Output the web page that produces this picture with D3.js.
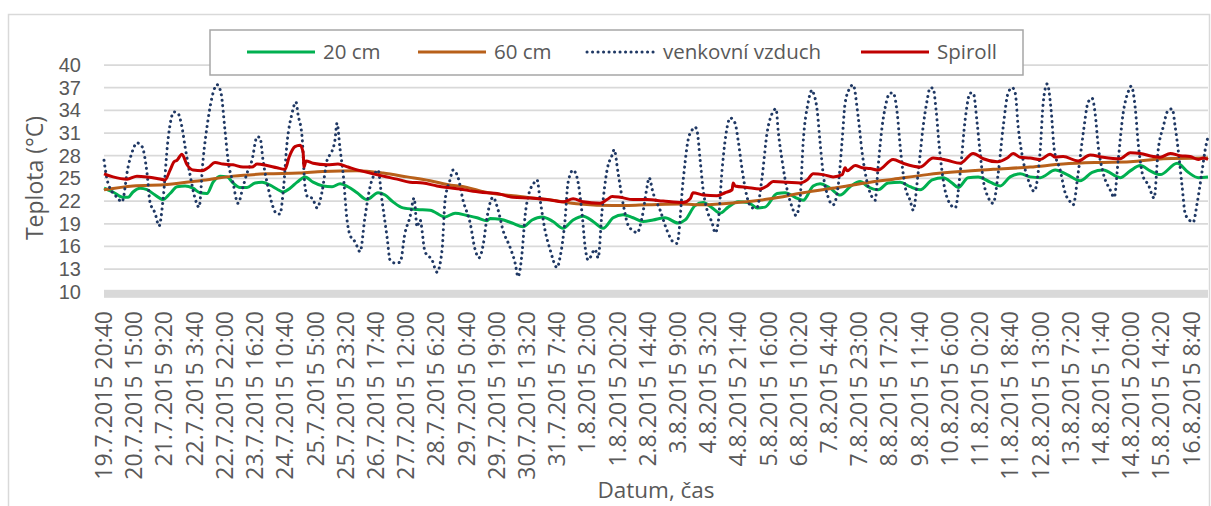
<!DOCTYPE html>
<html lang="cs">
<head>
<meta charset="UTF-8">
<title>Teplota</title>
<script src="https://d3js.org/d3.v7.min.js"></script>
<style>
  body { margin: 0; background: #fff; }
  svg text { font-family: "Open Sans", sans-serif; fill: #595959; }
  svg text.ytick { font-family: "Liberation Sans", Arial, sans-serif; }
</style>
</head>
<body>
<svg id="chart" width="1211" height="506"></svg>
<script>
// popisky osy x (kazdy 110. zaznam, krok 10 min)
var tickLabels = ["19.7.2015 20:40","20.7.2015 15:00","21.7.2015 9:20","22.7.2015 3:40","22.7.2015 22:00",
  "23.7.2015 16:20","24.7.2015 10:40","25.7.2015 5:00","25.7.2015 23:20","26.7.2015 17:40","27.7.2015 12:00",
  "28.7.2015 6:20","29.7.2015 0:40","29.7.2015 19:00","30.7.2015 13:20","31.7.2015 7:40","1.8.2015 2:00",
  "1.8.2015 20:20","2.8.2015 14:40","3.8.2015 9:00","4.8.2015 3:20","4.8.2015 21:40","5.8.2015 16:00",
  "6.8.2015 10:20","7.8.2015 4:40","7.8.2015 23:00","8.8.2015 17:20","9.8.2015 11:40","10.8.2015 6:00",
  "11.8.2015 0:20","11.8.2015 18:40","12.8.2015 13:00","13.8.2015 7:20","14.8.2015 1:40","14.8.2015 20:00",
  "15.8.2015 14:20","16.8.2015 8:40"];
var lastRecord = "16.8.2015 18:40";
var yTicks = [10, 13, 16, 19, 22, 25, 28, 31, 34, 37, 40];

// [hodiny od prvniho zaznamu, teplota]
var cm20 = [[0,23.7],[5.5,23.2],[11.5,22.5],[14.6,22.5],[17.6,23.2],[21.9,23.7],[26.1,23.5],[31,22.8],[35.8,22.2],
  [40.1,23.0],[44.3,23.9],[49.2,24.0],[54,23.7],[58.3,23.1],[62.5,23.0],[66.2,24.5],[70.4,25.3],[74.7,25.2],
  [78.3,24.4],[82.5,23.8],[86.8,23.8],[91.7,24.4],[95.9,24.5],[100.8,24.1],[105.6,23.5],[108.7,23.2],[112.9,23.7],
  [117.2,24.5],[122,25.2],[126.9,24.5],[132.9,24.0],[138.4,23.9],[143.3,24.3],[148.1,23.9],[153.6,23.1],
  [159.6,22.2],[166.3,23.1],[170.6,22.8],[175.4,21.9],[181.5,21.1],[190,20.9],[197.9,20.8],[207,19.9],
  [213.1,20.4],[220.3,20.1],[226.4,19.8],[232.5,19.4],[234.3,19.7],[240.4,19.6],[247.7,19.1],[254.3,18.6],
  [259.8,19.5],[265.9,19.9],[272.5,19.3],[278.6,18.4],[284.7,19.5],[290.8,20.0],[296.8,19.3],[302.9,18.4],
  [309,19.8],[315,20.2],[321.1,19.8],[327.2,19.3],[333.2,19.5],[340.5,19.8],[348.4,19.1],[352.7,19.5],
  [358.7,21.4],[363.6,21.8],[369.1,21.1],[373.9,20.4],[378.8,21.2],[384.8,21.9],[390.9,21.8],[396.4,21.1],
  [401.2,21.2],[408.5,23.0],[413.4,23.1],[419.4,22.5],[424.3,22.1],[430.4,24.0],[434.6,24.3],[440.7,23.7],
  [446.8,22.8],[452.8,23.9],[458.9,24.6],[463.7,23.9],[469.8,23.5],[475.9,24.4],[483.2,24.5],[489.2,23.9],
  [495.3,23.5],[502.6,24.8],[509.3,25.1],[514.7,24.4],[518.4,23.8],[524.4,25.1],[530.5,25.2],[537.8,24.5],
  [543.9,24.0],[549.9,25.2],[556,25.6],[562.1,25.2],[568.2,25.1],[577.3,26.1],[584.5,25.5],[592.4,24.7],
  [599.7,25.8],[606.4,26.1],[616.7,25.1],[622.8,26.0],[628.9,26.7],[634.9,26.0],[641,25.5],[651.3,27.0],
  [658,25.8],[664.1,25.1],[670,25.2]];

var cm60 = [[0,23.5],[17.6,24.0],[38.2,24.2],[58.3,24.7],[78.3,25.3],[98.9,25.6],[118.4,25.7],[132.9,25.9],
  [153.6,26.0],[169.4,25.7],[183.9,25.2],[197.9,24.7],[208.2,24.2],[220.3,23.8],[231,23.2],[248.3,22.7],
  [268.9,22.2],[289,21.6],[309,21.4],[329.6,21.5],[350.3,21.6],[363.6,21.5],[384.2,21.8],[404.2,22.3],
  [424.3,23.1],[445,23.8],[465,24.5],[479,24.9],[499.6,25.5],[519.6,25.9],[539.6,26.2],[562.1,26.5],
  [582.1,26.9],[603,27.1],[622.8,27.2],[642.8,27.6],[670,27.7]];

var venkovni = [[0,27.4],[2.4,24.4],[7.9,22.5],[10.9,21.9],[14.6,26.5],[17.6,28.8],[20,29.7],[23.1,29.2],
  [26.1,25.7],[27.9,21.9],[31,20.4],[33.4,18.7],[35.8,22.1],[38.8,30.0],[42.5,33.8],[44.9,33.6],[47.3,31.8],
  [49.2,29.2],[52.2,25.5],[55.2,22.4],[57.7,21.2],[60.1,27.4],[63.1,32.7],[66.2,36.3],[68.6,37.4],[71,36.3],
  [73.4,31.4],[75.3,27.4],[78.3,24.4],[81.3,21.7],[84.4,23.9],[86.8,25.7],[89.8,27.4],[92.9,30.5],[94.7,30.4],
  [96.5,27.4],[99.5,23.9],[102.6,21.2],[105,20.3],[106.8,20.3],[108.7,23.1],[111.1,29.7],[114.1,33.6],
  [116.5,35.1],[117.8,33.4],[120.2,30.5],[122,23.9],[123.8,22.5],[126.3,22.4],[129.3,21.1],[132.3,23.2],
  [135.4,27.4],[138.4,28.6],[140.2,30.1],[141.4,32.3],[143.3,28.8],[145.1,25.7],[147.5,19.5],[149.3,17.5],
  [152.4,16.6],[155.4,15.3],[158.4,19.9],[161.5,23.9],[164.5,25.7],[166.3,26.1],[168.7,22.1],[171.8,17.2],
  [173.6,14.2],[176.6,13.8],[179.7,13.9],[182.7,17.8],[185.7,19.9],[188.2,22.4],[190,18.6],[191.8,19.5],
  [194.8,15.3],[199.1,14.2],[202.1,12.6],[205.2,15.6],[207,22.1],[210,24.8],[211.8,26.1],[214.9,25.1],
  [217.9,22.1],[222.2,19.1],[225.2,15.6],[227.6,14.5],[230.1,16.2],[232.5,19.9],[236.1,22.5],[239.2,20.8],
  [242.2,18.1],[246.4,15.9],[249.5,13.8],[251.3,12.0],[253.7,15.1],[255.5,19.9],[258.6,23.5],[260.4,24.2],
  [262.8,24.8],[264.7,22.1],[267.7,18.1],[270.7,15.6],[275,13.2],[276.8,14.6],[279.8,19.5],[281.6,24.4],
  [284.7,26.1],[287.1,25.1],[290.1,20.4],[292,15.9],[293.8,14.2],[298,15.6],[299.9,14.5],[302.3,20.8],
  [305.3,26.1],[308.4,28.1],[309.6,28.8],[312,25.7],[315,21.7],[318.1,18.8],[321.1,18.1],[323.5,17.8],
  [326.6,19.9],[329.6,23.9],[330.8,25.1],[333.2,23.1],[337.5,20.8],[341.7,18.1],[345.4,16.6],[347.8,16.4],
  [351.5,24.8],[354.5,30.1],[356.9,31.4],[358.7,31.8],[360,31.2],[361.8,27.4],[363.6,23.5],[366,20.8],
  [369.1,19.1],[370.9,17.8],[372.7,19.1],[375.1,26.1],[378.2,31.8],[380,33.0],[383,32.3],[384.8,30.1],
  [387.3,26.1],[390.3,22.5],[393.3,21.1],[396.4,21.2],[399.4,25.2],[402.4,31.0],[405.5,33.6],[407.9,34.2],
  [409.1,31.4],[411.5,27.4],[414.6,23.5],[417.6,21.2],[420,20.1],[422.5,22.5],[424.3,29.7],[427.3,35.0],
  [429.8,36.7],[430.4,36.4],[432.8,34.0],[434.6,29.7],[436.4,25.7],[439.5,22.5],[442.5,21.5],[445.5,23.9],
  [448,30.1],[449.8,35.0],[452.8,37.0],[454.6,37.4],[457.7,33.1],[460.1,28.4],[463.1,24.5],[466.2,22.5],
  [468,22.1],[469.8,26.5],[472.2,31.8],[474.1,34.4],[477.1,36.3],[478.9,36.3],[481.4,33.6],[483.2,29.2],
  [486.2,23.9],[489.2,22.1],[491.1,20.8],[494.1,25.7],[497.1,31.8],[499.6,35.4],[501.4,37.0],[503.2,36.9],
  [505,34.0],[506.9,29.2],[509.3,24.8],[512.3,22.1],[516.6,21.1],[519.6,25.7],[522.6,32.7],[525.7,36.3],
  [527.5,36.3],[529.9,32.3],[531.7,28.4],[533.6,24.8],[536.6,22.5],[539.6,21.7],[542.7,25.7],[545.7,31.8],
  [548.7,36.3],[551.2,37.0],[553,36.3],[554.8,31.8],[557.8,27.4],[560.9,24.8],[564.5,23.3],[568.2,28.8],
  [570,35.0],[572.4,37.5],[574.8,34.0],[576.7,28.8],[580.3,26.1],[583.3,23.1],[586.4,21.9],[588.2,21.5],
  [591.2,25.7],[594.3,31.0],[597.3,35.1],[599.7,35.6],[601.5,33.6],[603.4,29.2],[606.4,25.7],[610.6,23.5],
  [613.1,22.5],[615.5,27.4],[618.5,33.6],[621.5,36.4],[623.4,37.2],[625.8,34.4],[627.6,29.7],[630.7,25.2],
  [633.7,24.2],[637.3,22.4],[639.8,28.8],[642.8,31.8],[645.8,34.0],[648.3,34.2],[650.1,31.8],[651.9,28.8],
  [654.3,23.9],[656.1,20.4],[658.6,19.5],[661,19.2],[663.4,21.7],[666.5,26.1],[668.3,28.8],[670,30.5]];

var spiroll = [[0,25.6],[5.5,25.2],[14,24.9],[20,25.3],[26.1,25.2],[32.2,25.0],[37,24.8],[40.1,26.1],[42.5,27.2],
  [44.3,27.4],[47.3,28.2],[50.4,26.8],[54,26.1],[59.5,26.0],[63.1,26.4],[67.4,27.1],[72.2,26.9],[78.3,26.8],
  [84.4,26.5],[89.8,26.5],[92.9,26.9],[98.9,26.7],[105,26.4],[109.9,26.2],[112.3,27.8],[115.9,29.2],[119,29.4],
  [120.8,28.5],[121.4,26.5],[122.6,27.3],[126.9,27.0],[135.4,26.8],[142,26.9],[148.1,26.5],[154.2,26.1],
  [161.5,25.7],[169.4,25.3],[177.9,24.9],[185.7,24.5],[193.6,24.4],[202.1,24.0],[208.2,23.8],[216.1,23.6],
  [224,23.3],[232.5,23.1],[238.6,23.0],[248.3,22.5],[258.6,22.4],[268.9,22.2],[278.6,21.9],[284.7,22.3],
  [290.8,21.9],[301.1,21.7],[305.3,22.2],[308.4,22.6],[313.2,22.5],[321.1,22.2],[329.6,22.2],[339.3,22.0],
  [351.5,21.8],[355.7,22.3],[357.5,23.1],[363.6,22.8],[372.1,22.7],[376.9,23.1],[381.2,23.5],[381.8,24.4],
  [383,24.0],[390.3,23.8],[398.2,23.6],[402.4,24.0],[406.1,24.6],[414.6,24.5],[422.5,24.4],[426.7,24.8],
  [430.4,25.6],[436.4,25.5],[442.5,25.2],[448,25.5],[449.8,26.4],[451,26.0],[455.9,26.7],[460.1,26.4],
  [465,26.3],[469.8,26.1],[478.9,27.5],[485,27.0],[495.3,26.5],[503.2,27.7],[511.7,27.4],[519.6,27.0],
  [527.5,28.3],[533.6,27.6],[542.1,27.2],[548.1,27.7],[551.8,28.3],[556,27.8],[562.1,27.7],[568.2,27.5],
  [574.2,28.2],[577.3,27.8],[582.1,27.9],[591.2,27.3],[598.5,28.1],[606.4,27.8],[616.7,27.6],[622.8,28.4],
  [628.9,28.3],[636.7,27.9],[641,27.8],[647.1,28.3],[653.1,28.0],[659.2,27.9],[664.1,27.5],[667.1,27.7],
  [670,27.5]];

var series = [
  { name: "20 cm", data: cm20, color: "#00B050", dash: null },
  { name: "60 cm", data: cm60, color: "#B8601A", dash: null },
  { name: "venkovní vzduch", data: venkovni, color: "#1F3864", dash: "0.1 5.4" },
  { name: "Spiroll", data: spiroll, color: "#C00000", dash: null }
];

var svg = d3.select("#chart");
var parse = d3.timeParse("%d.%m.%Y %H:%M");
var start = parse(tickLabels[0]);
var end = parse(lastRecord);

var x = d3.scaleTime().domain([start, end]).range([104, 1208]);
var y = d3.scaleLinear().domain([10, 40]).range([291.8, 65]);

function atHour(h) { return new Date(start.getTime() + h * 3600000); }

// ramecek grafu
svg.append("rect")
  .attr("x", 8.5).attr("y", 14.5).attr("width", 1201).attr("height", 520)
  .attr("fill", "#fff").attr("stroke", "#d9d9d9").attr("stroke-width", 1.5);

// mrizka
svg.append("g").selectAll("line")
  .data(yTicks)
  .enter().append("line")
  .attr("x1", 104).attr("x2", 1208)
  .attr("y1", function(d) { return y(d); })
  .attr("y2", function(d) { return y(d); })
  .attr("stroke", "#d9d9d9").attr("stroke-width", 1.75);

// osa x (siroky sedy pruh)
svg.append("rect")
  .attr("x", 104).attr("width", 1104)
  .attr("y", y(10) - 2).attr("height", 8)
  .attr("fill", "#d9d9d9");

// popisky osy y
svg.append("g").selectAll("text")
  .data(yTicks)
  .enter().append("text")
  .attr("class", "ytick")
  .attr("x", 81)
  .attr("y", function(d) { return y(d); })
  .attr("dy", "0.35em")
  .attr("text-anchor", "end")
  .style("font-size", "20px")
  .text(function(d) { return d; });

// popisky osy x
svg.append("g").selectAll("text")
  .data(tickLabels)
  .enter().append("text")
  .attr("transform", function(d) { return "translate(" + x(parse(d)) + ",311) rotate(-90)"; })
  .attr("dy", "0.35em")
  .attr("text-anchor", "end")
  .style("font-size", "23px")
  .text(function(d) { return d; });

// nazvy os
svg.append("text")
  .attr("transform", "translate(35,178) rotate(-90)")
  .attr("dy", "0.35em")
  .attr("text-anchor", "middle")
  .style("font-size", "23px")
  .text("Teplota (°C)");

svg.append("text")
  .attr("x", 656).attr("y", 490)
  .attr("dy", "0.35em")
  .attr("text-anchor", "middle")
  .style("font-size", "22.5px")
  .text("Datum, čas");

// krivky
var line = d3.line()
  .x(function(d) { return x(atHour(d[0])); })
  .y(function(d) { return y(d[1]); })
  .curve(d3.curveMonotoneX);

svg.append("g").selectAll("path")
  .data(series)
  .enter().append("path")
  .attr("d", function(s) { return line(s.data); })
  .attr("fill", "none")
  .attr("stroke", function(s) { return s.color; })
  .attr("stroke-width", 3)
  .attr("stroke-linecap", function(s) { return s.dash ? "round" : "butt"; })
  .attr("stroke-linejoin", "round")
  .attr("stroke-dasharray", function(s) { return s.dash; });

// legenda
var legendX = [247, 418, 587, 861];
var legend = svg.append("g");
legend.append("rect")
  .attr("x", 210).attr("y", 30).attr("width", 813).attr("height", 45)
  .attr("fill", "#fff").attr("stroke", "#a6a6a6").attr("stroke-width", 1.5);

var item = legend.selectAll("g.item")
  .data(series)
  .enter().append("g")
  .attr("class", "item")
  .attr("transform", function(s, i) { return "translate(" + legendX[i] + ",52)"; });

item.append("line")
  .attr("x1", 0).attr("x2", 68)
  .attr("stroke", function(s) { return s.color; })
  .attr("stroke-width", 3)
  .attr("stroke-linecap", function(s) { return s.dash ? "round" : "butt"; })
  .attr("stroke-dasharray", function(s) { return s.dash; });

item.append("text")
  .attr("x", 76)
  .attr("dy", "0.35em")
  .style("font-size", "20.5px")
  .text(function(s) { return s.name; });
</script>
</body>
</html>
